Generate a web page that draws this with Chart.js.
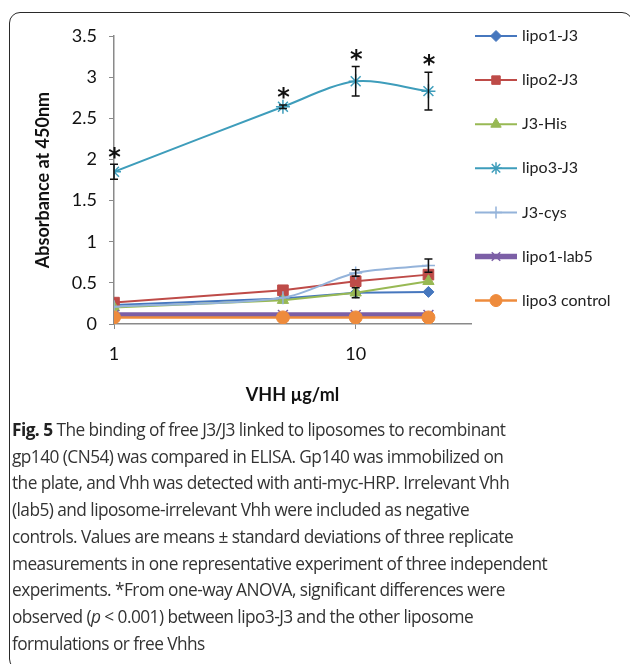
<!DOCTYPE html>
<html>
<head>
<meta charset="utf-8">
<script src="https://cdn.jsdelivr.net/npm/chart.js@4"></script>
<style>
  html, body { margin: 0; padding: 0; background: #fff; }
  #wrap { position: relative; width: 630px; height: 664px; overflow: hidden; }
  #frame { position: absolute; left: 9px; top: 12px; width: 624px; height: 658px; border: 1.5px solid #2a2a2a; border-radius: 11px; box-sizing: border-box; }
  #chartBox { position: absolute; left: 0; top: 0; width: 630px; height: 420px; }
  #caption { position: absolute; left: 12px; top: 417px; font-family: "Open Sans", "Noto Sans", sans-serif; font-size: 17.3px; letter-spacing: -0.55px; word-spacing: 0px; line-height: 26.7px; color: #333; white-space: nowrap; }
  #caption b { font-weight: bold; color: #222; }
</style>
</head>
<body>
<div id="wrap">
  <div id="frame"></div>
  <div id="chartBox"><canvas id="c" width="630" height="420"></canvas></div>
  <div id="caption">
    <b>Fig. 5</b> The binding of free J3/J3 linked to liposomes to recombinant<br>
    gp140 (CN54) was compared in ELISA. Gp140 was immobilized on<br>
    the plate, and Vhh was detected with anti-myc-HRP. Irrelevant Vhh<br>
    (lab5) and liposome-irrelevant Vhh were included as negative<br>
    controls. Values are means ± standard deviations of three replicate<br>
    measurements in one representative experiment of three independent<br>
    experiments. *From one-way ANOVA, significant differences were<br>
    observed (<i>p</i> &lt; 0.001) between lipo3-J3 and the other liposome<br>
    formulations or free Vhhs
  </div>
</div>
<script>
// ---- data ----
const concentrations = [1, 5, 10, 20];           // VHH µg/ml
const seriesNames = ['lipo1-J3', 'lipo2-J3', 'J3-His', 'lipo3-J3', 'J3-cys', 'lipo1-lab5', 'lipo3 control'];
const lipo1J3      = [0.23, 0.31, 0.38, 0.39];
const lipo2J3      = [0.26, 0.41, 0.52, 0.60];
const j3His        = [0.20, 0.29, 0.38, 0.52];
const lipo3J3      = [1.85, 2.64, 2.95, 2.83];
const j3Cys        = [0.21, 0.32, 0.62, 0.71];
const lipo1Lab5    = [0.11, 0.11, 0.11, 0.11];
const lipo3Control = [0.08, 0.08, 0.08, 0.08];
// standard deviations (error bars)
const lipo1J3Err   = [0, 0, 0, 0];
const lipo2J3Err   = [0, 0, 0, 0];
const j3HisErr     = [0, 0, 0.06, 0];
const lipo3J3Err   = [0.09, 0.02, 0.18, 0.23];
const j3CysErr     = [0, 0, 0.04, 0.08];
const lipo1Lab5Err = [0, 0, 0, 0];
const lipo3CtrlErr = [0, 0, 0, 0];
// significance markers (*) for lipo3-J3
const significant = [true, true, true, true];
const xTickValues = [1, 10];
const xTickLabels = ['1', '10'];
const yTickLabels = ['0', '0.5', '1', '1.5', '2', '2.5', '3', '3.5'];

const allValues = [lipo1J3, lipo2J3, j3His, lipo3J3, j3Cys, lipo1Lab5, lipo3Control];
const allErrors = [lipo1J3Err, lipo2J3Err, j3HisErr, lipo3J3Err, j3CysErr, lipo1Lab5Err, lipo3CtrlErr];

const styles = [
  { color: '#4677BE', point: 'rectRot', radius: 5.5, width: 2, tension: 0 },
  { color: '#BE4B48', point: 'rect', radius: 7.5, width: 2, tension: 0 },
  { color: '#98B954', point: 'triangle', radius: 6.5, width: 2, tension: 0 },
  { color: '#3E9DBB', point: 'star', radius: 7, width: 2, tension: 0.3 },
  { color: '#94B3DA', point: 'cross', radius: 6.5, width: 2, tension: 0.3 },
  { color: '#7C5FA6', point: 'crossRot', radius: 7, width: 5.5, tension: 0 },
  { color: '#EE8B3C', point: 'circle', radius: 6.5, width: 2.5, tension: 0 }
];

const datasets = seriesNames.map((name, i) => {
  const s = styles[i];
  const filled = ['rectRot', 'rect', 'triangle', 'circle'].includes(s.point);
  return {
    label: name,
    data: concentrations.map((x, j) => ({ x: x, y: allValues[i][j] })),
    borderColor: s.color,
    backgroundColor: s.color,
    borderWidth: s.width,
    pointStyle: s.point,
    pointRadius: s.radius,
    pointBackgroundColor: s.color,
    pointBorderColor: s.color,
    pointBorderWidth: filled ? 1 : 1.5,
    tension: s.tension,
    order: 10 - i,
    errors: allErrors[i]
  };
});

const errorBarPlugin = {
  id: 'errorBars',
  afterDatasetsDraw(chart) {
    const ctx = chart.ctx;
    const xs = chart.scales.x, ys = chart.scales.y;
    ctx.save();
    ctx.strokeStyle = '#111';
    ctx.lineWidth = 1.5;
    chart.data.datasets.forEach((ds) => {
      ds.data.forEach((p, j) => {
        const e = ds.errors[j];
        if (!e) return;
        const px = xs.getPixelForValue(p.x);
        const top = ys.getPixelForValue(p.y + e);
        const bot = ys.getPixelForValue(p.y - e);
        ctx.beginPath();
        ctx.moveTo(px, top); ctx.lineTo(px, bot);
        ctx.moveTo(px - 4, top); ctx.lineTo(px + 4, top);
        ctx.moveTo(px - 4, bot); ctx.lineTo(px + 4, bot);
        ctx.stroke();
      });
    });
    // significance stars over lipo3-J3
    ctx.fillStyle = '#111';
    ctx.font = 'bold 24px "DejaVu Sans", sans-serif';
    ctx.textAlign = 'center';
    ctx.textBaseline = 'middle';
    concentrations.forEach((x, j) => {
      if (!significant[j]) return;
      const px = xs.getPixelForValue(x);
      const top = ys.getPixelForValue(lipo3J3[j] + lipo3J3Err[j]);
      ctx.fillText('*', px + 0.5, top - 6);
    });
    ctx.restore();
  }
};

const legendPlugin = {
  id: 'sideLegend',
  afterDraw(chart) {
    const ctx = chart.ctx;
    const x0 = 475, x1 = 517, mx = 496, tx = 522, y0 = 36, dy = 44.1;
    chart.data.datasets.forEach((ds, i) => {
      const y = y0 + i * dy;
      ctx.save();
      ctx.strokeStyle = ds.borderColor;
      ctx.fillStyle = ds.borderColor;
      ctx.lineWidth = ds.borderWidth;
      ctx.beginPath(); ctx.moveTo(x0, y); ctx.lineTo(x1, y); ctx.stroke();
      ctx.lineWidth = ds.pointBorderWidth;
      Chart.helpers.drawPoint(ctx, {
        pointStyle: ds.pointStyle, rotation: 0,
        radius: Math.min(ds.pointRadius, 6), borderWidth: ds.pointBorderWidth
      }, mx, y);
      ctx.fillStyle = '#222';
      ctx.font = '16px Lato, sans-serif';
      ctx.textAlign = 'left';
      ctx.textBaseline = 'middle';
      ctx.fillText(ds.label, tx, y);
      ctx.restore();
    });
  }
};

const axisGray = '#8a8a8a';
new Chart(document.getElementById('c'), {
  type: 'line',
  data: { datasets: datasets },
  plugins: [errorBarPlugin, legendPlugin],
  options: {
    responsive: false,
    animation: false,
    layout: { padding: { top: 36, right: 159, bottom: 0, left: 0 } },
    plugins: { legend: { display: false }, tooltip: { enabled: false } },
    scales: {
      x: {
        type: 'logarithmic',
        min: 1, max: 30,
        afterBuildTicks: (s) => { s.ticks = xTickValues.map(v => ({ value: v })); },
        afterFit: (s) => { s.height = 96; },
        grid: { drawOnChartArea: false, drawTicks: true, tickLength: 5, color: axisGray, lineWidth: 1 },
        border: { display: true, color: axisGray, width: 1.5 },
        ticks: {
          autoSkip: false, maxRotation: 0, padding: 14,
          color: '#111', font: { family: 'Lato', size: 18 },
          callback: (v) => { const k = xTickValues.indexOf(v); return k >= 0 ? xTickLabels[k] : ''; }
        },
        title: { display: true, text: 'VHH µg/ml', color: '#111', font: { family: 'Lato', size: 18, weight: 'bold' }, padding: { top: 0, bottom: 14 } }
      },
      y: {
        min: 0, max: 3.5,
        afterFit: (s) => { s.width = 114; },
        grid: { drawOnChartArea: false, drawTicks: true, tickLength: 5, color: axisGray, lineWidth: 1 },
        border: { display: true, color: axisGray, width: 1.5 },
        ticks: {
          stepSize: 0.5, padding: 12,
          color: '#111', font: { family: 'Lato', size: 18 },
          callback: (v) => yTickLabels[Math.round(v / 0.5)]
        },
        title: { display: true, text: 'Absorbance at 450nm', color: '#111', font: { family: 'Lato', size: 18, weight: 'bold' }, padding: { top: 32, bottom: 0 } }
      }
    }
  }
});
</script>
</body>
</html>
